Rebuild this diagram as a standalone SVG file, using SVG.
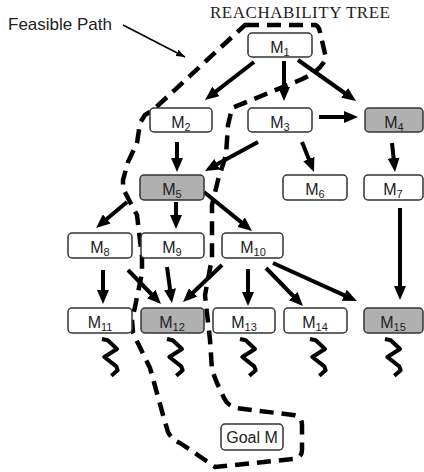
<svg xmlns="http://www.w3.org/2000/svg" width="424" height="472" viewBox="0 0 424 472">
<style>
.box{fill:#fff;stroke:#333;stroke-width:1.5}
.g{fill:#b0b0b0}
.lbl{font-family:"Liberation Sans",Arial,sans-serif;font-size:16px;fill:#222;text-anchor:middle}
.sub{font-size:11px}
.arr{stroke:#000;stroke-width:4;fill:none;marker-end:url(#ah)}
.sq{stroke:#000;stroke-width:4;fill:none;stroke-linejoin:round}
.dash{stroke:#000;stroke-width:4.5;fill:none;stroke-dasharray:14 8}
</style>
<defs>
<marker id="ah" markerUnits="userSpaceOnUse" markerWidth="14" markerHeight="12" viewBox="0 0 14 12" refX="7" refY="6" orient="auto"><path d="M0,0 L14,6 L0,12 z" fill="#000"/></marker>
<marker id="ahs" markerUnits="userSpaceOnUse" markerWidth="9" markerHeight="7" viewBox="0 0 9 7" refX="9" refY="3.5" orient="auto"><path d="M0,0 L9,3.5 L0,7 z" fill="#000"/></marker>
</defs>
<rect width="424" height="472" fill="#fff"/>
<text x="300" y="18" font-family="Liberation Serif,Times New Roman,serif" font-size="17" fill="#222" text-anchor="middle" textLength="180" lengthAdjust="spacing">REACHABILITY TREE</text>
<text x="8" y="30" font-family="Liberation Sans,Arial,sans-serif" font-size="17" fill="#222">Feasible Path</text>
<g id="connectors">
<line x1="123" y1="25" x2="185" y2="57" stroke="#000" stroke-width="1.5" marker-end="url(#ahs)"/>
<line class="arr" x1="254" y1="62" x2="210.5" y2="95.7"/>
<line class="arr" x1="284" y1="61" x2="284" y2="94"/>
<line class="arr" x1="298" y1="60" x2="350.3" y2="97"/>
<line class="arr" x1="319" y1="117" x2="351" y2="117"/>
<line class="arr" x1="177" y1="142" x2="177" y2="165"/>
<line class="arr" x1="258" y1="142" x2="211.1" y2="167.6"/>
<line class="arr" x1="302" y1="142" x2="311.4" y2="165.5"/>
<line class="arr" x1="392" y1="143" x2="394.3" y2="165"/>
<line class="arr" x1="127" y1="202" x2="101.4" y2="223.5"/>
<line class="arr" x1="176" y1="202" x2="176" y2="222"/>
<line class="arr" x1="204" y1="192" x2="246.6" y2="226.6"/>
<line class="arr" x1="400" y1="208" x2="400" y2="293"/>
<line class="arr" x1="103" y1="270" x2="103" y2="297"/>
<line class="arr" x1="128" y1="270" x2="156.1" y2="299"/>
<line class="arr" x1="167" y1="267" x2="171" y2="296"/>
<line class="arr" x1="222" y1="265" x2="188.1" y2="297.2"/>
<line class="arr" x1="248" y1="269" x2="248" y2="299"/>
<line class="arr" x1="266" y1="268" x2="298.1" y2="301"/>
<line class="arr" x1="273" y1="263" x2="350.6" y2="298.1"/>
<path class="sq" d="M102,339 l5.7,1.3 l9.3,8.7 l-12.7,8 l12,9.3 l1.4,4 l-6.4,5.4"/>
<path class="sq" d="M167,339 l5.7,1.3 l9.3,8.7 l-12.7,8 l12,9.3 l1.4,4 l-6.4,5.4"/>
<path class="sq" d="M240,339 l5.7,1.3 l9.3,8.7 l-12.7,8 l12,9.3 l1.4,4 l-6.4,5.4"/>
<path class="sq" d="M310,339 l5.7,1.3 l9.3,8.7 l-12.7,8 l12,9.3 l1.4,4 l-6.4,5.4"/>
<path class="sq" d="M385,339 l5.7,1.3 l9.3,8.7 l-12.7,8 l12,9.3 l1.4,4 l-6.4,5.4"/>
<path class="dash" d="M245,25 L315,25 Q319,26 320,32 L326,58 Q320,72 300,80 L232,108 L228,125 L226,155 L218,180 L212,205 L212,258 L205,295 L210,340 L212,370 L217,383 L224,398 Q228,406 236,408 L293,415 Q302,416 302,425 L302,450 Q302,458 293,459 L215,467 L205,460 L180,443 Q172,440 168,432 L163,415 L150,368 L133,333 L132,320 L135,307 L142,273 L142,257 L137,215 L130,202 L123,188 L123,180 L128,162 L137,143 L140,123 L145,115 L153,110 Z"/>
</g>
<g id="M1"><rect class="box" x="248" y="33" width="64" height="24" rx="4"/><text class="lbl" x="280" y="53">M<tspan class="sub" dy="3">1</tspan></text></g>
<g id="M2"><rect class="box" x="150" y="108" width="62" height="24" rx="4"/><text class="lbl" x="181" y="128">M<tspan class="sub" dy="3">2</tspan></text></g>
<g id="M3"><rect class="box" x="248" y="108" width="64" height="24" rx="4"/><text class="lbl" x="280" y="128">M<tspan class="sub" dy="3">3</tspan></text></g>
<g id="M4"><rect class="box g" x="365" y="108" width="58" height="24" rx="4"/><text class="lbl" x="394" y="128">M<tspan class="sub" dy="3">4</tspan></text></g>
<g id="M5"><rect class="box g" x="140" y="175" width="64" height="25" rx="4"/><text class="lbl" x="172" y="195">M<tspan class="sub" dy="3">5</tspan></text></g>
<g id="M6"><rect class="box" x="283" y="175" width="64" height="25" rx="4"/><text class="lbl" x="315" y="195">M<tspan class="sub" dy="3">6</tspan></text></g>
<g id="M7"><rect class="box" x="364" y="175" width="59" height="25" rx="4"/><text class="lbl" x="393" y="195">M<tspan class="sub" dy="3">7</tspan></text></g>
<g id="M8"><rect class="box" x="68" y="233" width="64" height="25" rx="4"/><text class="lbl" x="100" y="253">M<tspan class="sub" dy="3">8</tspan></text></g>
<g id="M9"><rect class="box" x="141" y="233" width="63" height="25" rx="4"/><text class="lbl" x="172" y="253">M<tspan class="sub" dy="3">9</tspan></text></g>
<g id="M10"><rect class="box" x="222" y="233" width="61" height="25" rx="4"/><text class="lbl" x="253" y="253">M<tspan class="sub" dy="3">10</tspan></text></g>
<g id="M11"><rect class="box" x="68" y="308" width="64" height="25" rx="4"/><text class="lbl" x="100" y="328">M<tspan class="sub" dy="3">11</tspan></text></g>
<g id="M12"><rect class="box g" x="141" y="308" width="63" height="25" rx="4"/><text class="lbl" x="172" y="328">M<tspan class="sub" dy="3">12</tspan></text></g>
<g id="M13"><rect class="box" x="213" y="308" width="62" height="25" rx="4"/><text class="lbl" x="244" y="328">M<tspan class="sub" dy="3">13</tspan></text></g>
<g id="M14"><rect class="box" x="284" y="308" width="63" height="25" rx="4"/><text class="lbl" x="315" y="328">M<tspan class="sub" dy="3">14</tspan></text></g>
<g id="M15"><rect class="box g" x="364" y="308" width="59" height="25" rx="4"/><text class="lbl" x="393" y="328">M<tspan class="sub" dy="3">15</tspan></text></g>
<g id="Goal"><rect class="box" x="221" y="424" width="62" height="26" rx="4"/><text class="lbl" x="252" y="443" font-size="17">Goal M</text></g>
</svg>
